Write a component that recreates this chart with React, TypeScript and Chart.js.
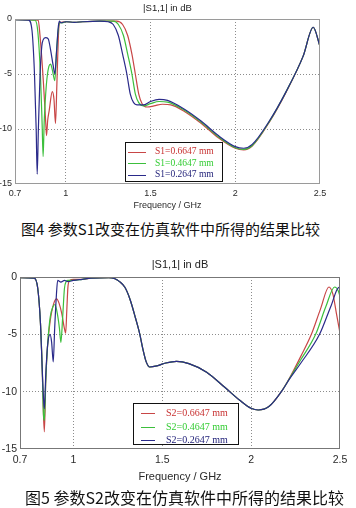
import React, { useEffect, useRef } from "react";
import { Chart, registerables } from "chart.js";

Chart.register(...registerables);

// ---------- shared axis content ----------
const xTickValues = [0.7, 1, 1.5, 2, 2.5];
const yTickValues = [0, -5, -10, -15];
const plotTitle = "|S1,1| in dB";
const xAxisTitle = "Frequency / GHz";
const caption1 = "图4 参数S1改变在仿真软件中所得的结果比较";
const caption2 = "图5 参数S2改变在仿真软件中所得的结果比较";

// ---------- figure 4 (parameter S1) ----------
const fig4Labels = ["S1=0.2647 mm", "S1=0.4647 mm", "S1=0.6647 mm"];

const fig4BlueFreq = [0.7, 0.78, 0.8, 0.815, 0.825, 0.831, 0.838, 0.848, 0.858, 0.866, 0.88, 0.896, 0.91, 0.925, 0.935, 0.945, 0.955, 0.962, 0.97, 1.0, 1.05, 1.1, 1.2, 1.25, 1.28, 1.31, 1.335, 1.36, 1.38, 1.4, 1.42, 1.46, 1.5, 1.55, 1.6, 1.7, 1.8, 1.9, 2.0, 2.05, 2.1, 2.2, 2.3, 2.4, 2.46, 2.5];
const fig4BlueDb = [-0.05, -0.1, -1.0, -5, -10, -14.1, -10, -5, -2.5, -1.9, -1.7, -1.8, -2.8, -4.2, -5, -3, -0.8, -0.2, -0.35, -0.25, -0.3, -0.25, -0.2, -0.25, -0.5, -1.5, -3.2, -5.0, -6.8, -7.6, -7.8, -7.8, -7.5, -7.3, -7.4, -8.2, -9.3, -10.6, -11.6, -11.75, -11.4, -9.3, -6.6, -3.4, -0.75, -2.5];

const fig4GreenFreq = [0.7, 0.818, 0.835, 0.85, 0.86, 0.866, 0.872, 0.885, 0.9, 0.91, 0.92, 0.935, 0.945, 0.955, 0.965, 0.98, 1.0, 1.05, 1.1, 1.2, 1.28, 1.31, 1.34, 1.365, 1.39, 1.41, 1.43, 1.46, 1.5, 1.55, 1.6, 1.7, 1.8, 1.9, 2.0, 2.05, 2.1, 2.2, 2.3, 2.4, 2.46, 2.5];
const fig4GreenDb = [-0.05, -0.1, -1.2, -5, -9.5, -12.5, -9.5, -6.0, -4.3, -4.1, -4.6, -5.6, -3, -1, -0.3, -0.35, -0.25, -0.3, -0.25, -0.2, -0.2, -0.5, -1.5, -3.2, -5.0, -6.8, -7.6, -7.9, -7.7, -7.5, -7.55, -8.3, -9.4, -10.7, -11.7, -11.85, -11.5, -9.35, -6.6, -3.4, -0.75, -2.5];

const fig4RedFreq = [0.7, 0.837, 0.847, 0.867, 0.882, 0.886, 0.893, 0.902, 0.92, 0.93, 0.939, 0.947, 0.955, 0.961, 0.97, 1.0, 1.05, 1.1, 1.2, 1.3, 1.335, 1.365, 1.39, 1.41, 1.43, 1.45, 1.48, 1.52, 1.57, 1.62, 1.7, 1.8, 1.9, 2.0, 2.05, 2.1, 2.2, 2.3, 2.4, 2.46, 2.5];
const fig4RedDb = [-0.05, -0.1, -1.4, -5.6, -9.6, -10.6, -9.2, -8.3, -6.6, -7.3, -9.5, -6, -2, -0.4, -0.3, -0.25, -0.3, -0.25, -0.2, -0.2, -0.5, -1.5, -3.2, -5.0, -6.8, -7.7, -8.0, -7.9, -7.75, -7.8, -8.4, -9.5, -10.8, -11.75, -11.9, -11.55, -9.4, -6.65, -3.4, -0.75, -2.5];

// ---------- figure 5 (parameter S2) ----------
const fig5Labels = ["S2=0.2647 mm", "S2=0.4647 mm", "S2=0.6647 mm"];

const fig5BlueFreq = [0.7, 0.78, 0.8, 0.815, 0.825, 0.832, 0.837, 0.845, 0.855, 0.869, 0.878, 0.887, 0.895, 0.905, 0.912, 0.93, 0.95, 0.97, 1.0, 1.05, 1.1, 1.2, 1.234, 1.26, 1.29, 1.32, 1.35, 1.374, 1.39, 1.41, 1.43, 1.47, 1.52, 1.58, 1.65, 1.75, 1.85, 1.936, 2.0, 2.04, 2.1, 2.17, 2.22, 2.28, 2.385, 2.45, 2.494, 2.5];
const fig5BlueDb = [-0.05, -0.1, -1.0, -4, -8, -10.5, -11.5, -8.5, -6.0, -5.0, -5.7, -7.4, -4.5, -1.5, -0.3, -0.45, -0.3, -0.4, -0.3, -0.2, -0.1, -0.05, -0.15, -0.4, -0.9, -2.0, -3.6, -5.0, -6.2, -7.4, -7.85, -7.75, -7.5, -7.35, -7.55, -8.3, -9.6, -10.75, -11.45, -11.6, -11.3, -10.0, -8.8, -7.5, -5.0, -2.5, -0.9, -1.1];

const fig5GreenFreq = [0.7, 0.78, 0.8, 0.815, 0.825, 0.832, 0.837, 0.845, 0.855, 0.87, 0.885, 0.897, 0.91, 0.922, 0.93, 0.94, 0.95, 0.96, 0.97, 1.0, 1.05, 1.1, 1.2, 1.234, 1.26, 1.29, 1.32, 1.35, 1.374, 1.39, 1.41, 1.43, 1.47, 1.52, 1.58, 1.65, 1.75, 1.85, 1.936, 2.0, 2.04, 2.1, 2.17, 2.22, 2.28, 2.363, 2.42, 2.47, 2.49, 2.5];
const fig5GreenDb = [-0.05, -0.1, -1.0, -4, -8, -12, -12.5, -9, -6, -3.5, -2.6, -2.4, -3.2, -4.5, -5.7, -3.5, -1.0, -0.4, -0.3, -0.3, -0.2, -0.1, -0.05, -0.15, -0.4, -0.9, -2.0, -3.6, -5.0, -6.2, -7.4, -7.85, -7.75, -7.5, -7.35, -7.55, -8.3, -9.6, -10.75, -11.45, -11.6, -11.3, -10.0, -8.75, -7.2, -5.0, -2.6, -0.87, -1.2, -1.7];

const fig5RedFreq = [0.7, 0.78, 0.8, 0.815, 0.825, 0.832, 0.837, 0.845, 0.855, 0.87, 0.89, 0.906, 0.92, 0.935, 0.95, 0.957, 0.963, 0.97, 0.98, 1.0, 1.05, 1.1, 1.2, 1.234, 1.26, 1.29, 1.32, 1.35, 1.374, 1.39, 1.41, 1.43, 1.47, 1.52, 1.58, 1.65, 1.75, 1.85, 1.936, 2.0, 2.04, 2.1, 2.17, 2.22, 2.28, 2.339, 2.39, 2.438, 2.46, 2.48, 2.5];
const fig5RedDb = [-0.05, -0.1, -1.0, -4, -8, -12, -13.5, -9, -6, -3.8, -2.3, -1.9, -2.3, -3.2, -4.5, -4.9, -3.0, -0.8, -0.3, -0.2, -0.2, -0.1, -0.05, -0.15, -0.4, -0.9, -2.0, -3.6, -5.0, -6.2, -7.4, -7.85, -7.75, -7.5, -7.35, -7.55, -8.3, -9.6, -10.75, -11.45, -11.6, -11.3, -10.0, -8.7, -6.9, -5.0, -2.8, -0.87, -1.5, -3.2, -4.9];

const seriesColors = ["#2a2a8a", "#3cbf3c", "#c84646"];
const legendTextColors = ["#23237a", "#33cc33", "#c83232"];

function toPoints(freq: number[], db: number[]) {
  return freq.map((f, i) => ({ x: f, y: db[i] }));
}

const framePlugin = {
  id: "frame",
  afterDraw(chart: any, _args: any, opts: any) {
    const ctx = chart.ctx;
    const a = chart.chartArea;
    ctx.save();
    // plot frame
    ctx.strokeStyle = opts.borderColor;
    ctx.lineWidth = 1;
    ctx.strokeRect(Math.round(a.left) + 0.5, Math.round(a.top) + 0.5, Math.round(a.width) - 1, Math.round(a.height) - 1);
    // title
    ctx.fillStyle = "#222";
    ctx.font = opts.titleFont;
    ctx.textAlign = "center";
    ctx.textBaseline = "middle";
    ctx.fillText(opts.title, (a.left + a.right) / 2, opts.titleY);
    // legend box
    const L = opts.legend;
    ctx.fillStyle = "#ffffff";
    ctx.fillRect(L.x, L.y, L.w, L.h);
    ctx.strokeStyle = "#111";
    ctx.strokeRect(L.x + 0.5, L.y + 0.5, L.w, L.h);
    const ds = chart.data.datasets.slice().reverse();
    const tcols = legendTextColors.slice().reverse();
    ctx.font = L.font;
    ctx.textAlign = "left";
    ds.forEach((d: any, i: number) => {
      const y = L.rows[i];
      ctx.strokeStyle = d.borderColor;
      ctx.lineWidth = 1;
      ctx.beginPath();
      ctx.moveTo(L.lineX0, Math.round(y) + 0.5);
      ctx.lineTo(L.lineX1, Math.round(y) + 0.5);
      ctx.stroke();
      ctx.fillStyle = tcols[i];
      ctx.fillText(d.label, L.textX, y);
    });
    ctx.restore();
  },
};

type ChartSpec = {
  top: number;
  height: number;
  series: { freq: number[]; db: number[] }[];
  labels: string[];
  yAxisWidth: number;
  xAxisHeight: number;
  padding: { top: number; right: number; bottom: number; left: number };
  tickFont: number;
  tickPad: number;
  titleFont: number;
  titlePadBottom: number;
  plotTitleFont: string;
  plotTitleY: number;
  borderColor: string;
  legend: any;
};

function SParamChart({ spec }: { spec: ChartSpec }) {
  const ref = useRef<HTMLCanvasElement | null>(null);
  useEffect(() => {
    if (!ref.current) return;
    const gridColor = (c: any) => {
      const v = c.tick ? c.tick.value : null;
      if (v === 0.7 || v === 2.5 || v === 0 || v === -15) return "rgba(0,0,0,0)";
      return "#8c8c8c";
    };
    const chart = new Chart(ref.current, {
      type: "line",
      data: {
        datasets: spec.series.map((s, i) => ({
          label: spec.labels[i],
          data: toPoints(s.freq, s.db),
          borderColor: seriesColors[i],
          backgroundColor: seriesColors[i],
          borderWidth: 1.2,
          pointRadius: 0,
          cubicInterpolationMode: "monotone" as const,
          fill: false,
        })),
      },
      options: {
        animation: false,
        responsive: false,
        maintainAspectRatio: false,
        layout: { padding: spec.padding },
        plugins: {
          legend: { display: false },
          tooltip: { enabled: false },
          title: { display: false },
          frame: {
            borderColor: spec.borderColor,
            title: plotTitle,
            titleFont: spec.plotTitleFont,
            titleY: spec.plotTitleY,
            legend: spec.legend,
          },
        } as any,
        scales: {
          x: {
            type: "linear",
            min: 0.7,
            max: 2.5,
            afterBuildTicks: (s: any) => {
              s.ticks = xTickValues.map((v) => ({ value: v }));
            },
            afterFit: (s: any) => {
              s.height = spec.xAxisHeight;
            },
            ticks: {
              autoSkip: false,
              maxRotation: 0,
              padding: spec.tickPad,
              color: "#2a2a2a",
              font: { family: "Liberation Sans", size: spec.tickFont },
              callback: (v: any) => String(v),
            },
            grid: { color: gridColor, drawTicks: false, lineWidth: 1 },
            border: { display: false, dash: [1, 2] },
            title: {
              display: true,
              text: xAxisTitle,
              color: "#2a2a2a",
              font: { family: "Liberation Sans", size: spec.titleFont },
              padding: { top: 0, bottom: spec.titlePadBottom },
            },
          },
          y: {
            type: "linear",
            min: -15,
            max: 0,
            afterBuildTicks: (s: any) => {
              s.ticks = yTickValues.map((v) => ({ value: v }));
            },
            afterFit: (s: any) => {
              s.width = spec.yAxisWidth;
            },
            ticks: {
              padding: 3,
              color: "#2a2a2a",
              font: { family: "Liberation Sans", size: spec.tickFont },
              callback: (v: any) => String(v),
            },
            grid: { color: gridColor, drawTicks: false, lineWidth: 1 },
            border: { display: false, dash: [1, 2] },
          },
        },
      },
      plugins: [framePlugin],
    } as any);
    return () => chart.destroy();
  }, [spec]);
  return (
    <canvas
      ref={ref}
      width={356}
      height={spec.height}
      style={{ position: "absolute", left: 0, top: spec.top, width: 356, height: spec.height }}
    />
  );
}

const spec4: ChartSpec = {
  top: 0,
  height: 215,
  series: [
    { freq: fig4BlueFreq, db: fig4BlueDb },
    { freq: fig4GreenFreq, db: fig4GreenDb },
    { freq: fig4RedFreq, db: fig4RedDb },
  ],
  labels: fig4Labels,
  yAxisWidth: 15,
  xAxisHeight: 31,
  padding: { top: 19, right: 36, bottom: 0, left: 0 },
  tickFont: 9,
  tickPad: 4,
  titleFont: 9,
  titlePadBottom: 4,
  plotTitleFont: "9.5px 'Liberation Sans'",
  plotTitleY: 8,
  borderColor: "#9a9a9a",
  legend: {
    x: 125, y: 142, w: 97, h: 39,
    rows: [151.5, 163, 174.5],
    lineX0: 128, lineX1: 146, textX: 155,
    font: "9.5px 'Liberation Serif'",
  },
};

const spec5: ChartSpec = {
  top: 240,
  height: 248,
  series: [
    { freq: fig5BlueFreq, db: fig5BlueDb },
    { freq: fig5GreenFreq, db: fig5GreenDb },
    { freq: fig5RedFreq, db: fig5RedDb },
  ],
  labels: fig5Labels,
  yAxisWidth: 20,
  xAxisHeight: 39,
  padding: { top: 37, right: 16, bottom: 0, left: 0 },
  tickFont: 10.5,
  tickPad: 5,
  titleFont: 11,
  titlePadBottom: 4,
  plotTitleFont: "11px 'Liberation Sans'",
  plotTitleY: 25,
  borderColor: "#777777",
  legend: {
    x: 133, y: 163, w: 105, h: 41,
    rows: [173, 187, 200],
    lineX0: 141, lineX1: 155, textX: 166,
    font: "10px 'Liberation Serif'",
  },
};

export default function App() {
  const capStyle: React.CSSProperties = {
    position: "absolute",
    whiteSpace: "nowrap",
    fontFamily: "'Noto Sans CJK SC', sans-serif",
    color: "#111",
    lineHeight: "20px",
  };
  return (
    <div style={{ position: "absolute", left: 0, top: 0, width: 356, height: 508, background: "#fff", overflow: "hidden" }}>
      <SParamChart spec={spec4} />
      <div style={{ ...capStyle, left: 21, top: 219, fontSize: 15 }}>{caption1}</div>
      <SParamChart spec={spec5} />
      <div style={{ ...capStyle, left: 25, top: 487, fontSize: 16 }}>{caption2}</div>
    </div>
  );
}
